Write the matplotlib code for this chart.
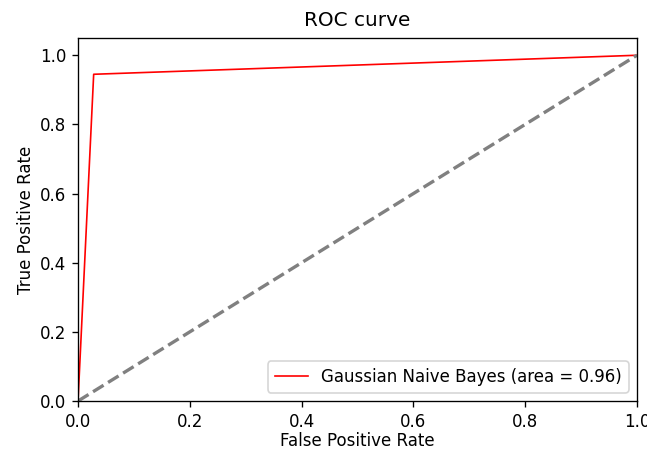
import matplotlib
matplotlib.use("Agg")
import matplotlib.pyplot as plt

fpr = [0.0, 0.028, 1.0]
tpr = [0.0, 0.945, 1.0]
roc_auc = 0.96
label = "Gaussian Naive Bayes"

# drawn at 120 dpi so text and lines come out 1.2x the default size
fig = plt.figure(figsize=(6.47 / 1.2, 4.52 / 1.2), dpi=120)
ax = fig.add_subplot(111)
fig.subplots_adjust(left=0.1206, right=0.9845, top=0.916, bottom=0.1128)

ax.plot(fpr, tpr, color="red", lw=1, label=f"{label} (area = {roc_auc:.2f})")
ax.plot([0, 1], [0, 1], color="gray", lw=2, linestyle="--")
ax.set_xlim(0.0, 1.0)
ax.set_ylim(0.0, 1.05)
ax.set_xlabel("False Positive Rate", labelpad=1)
ax.set_ylabel("True Positive Rate", labelpad=3)
ax.set_title("ROC curve", pad=7)
ax.legend(loc="lower right")

fig.savefig("out.png", dpi=120)
